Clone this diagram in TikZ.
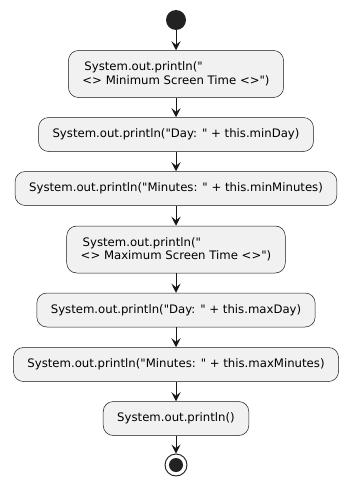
\documentclass[tikz,border=0pt]{standalone}
\usepackage{fontspec}
\setmainfont{DejaVu Sans}[Ligatures=TeXOff]
\usetikzlibrary{arrows.meta}
\definecolor{actfill}{HTML}{F1F1F1}
\definecolor{actline}{HTML}{181818}
\definecolor{dotfill}{HTML}{222222}
\begin{document}
\begin{tikzpicture}[x=1pt, y=-1pt,
  act/.style={draw=actline, fill=actfill, rounded corners=10pt, line width=0.5pt,
    font=\fontsize{11.7}{13.5}\selectfont, align=left, inner xsep=14pt, minimum height=34pt},
  flow/.style={draw=actline, line width=0.9pt, -{Stealth[length=9pt, width=9pt, inset=3.5pt]}}]
\useasboundingbox (0,0) rectangle (352,487);
\node[circle, fill=dotfill, minimum size=20pt, inner sep=0pt] (start) at (176,20){};
\node[act, minimum height=47pt] (minhead) at (176,74){\,System.out.println("\\<> Minimum Screen Time <>")};
\node[act] (minday) at (176,134.5){System.out.println("Day: " + this.minDay)};
\node[act] (minmin) at (176,188.5){System.out.println("Minutes: " + this.minMinutes)};
\node[act, minimum height=47pt] (maxhead) at (176,249.5){\,System.out.println("\\<> Maximum Screen Time <>")};
\node[act] (maxday) at (176,310){System.out.println("Day: " + this.maxDay)};
\node[act] (maxmin) at (176,364.5){System.out.println("Minutes: " + this.maxMinutes)};
\node[act] (blank) at (176,418.5){System.out.println()};
\node[circle, draw=actline, line width=0.9pt, minimum size=22pt, inner sep=0pt] (stop) at (176,465){};
\node[circle, fill=dotfill, minimum size=14pt, inner sep=0pt] (stopdot) at (stop){};
\draw[flow](start) -- (minhead);
\draw[flow](minhead) -- (minday);
\draw[flow](minday) -- (minmin);
\draw[flow](minmin) -- (maxhead);
\draw[flow](maxhead) -- (maxday);
\draw[flow](maxday) -- (maxmin);
\draw[flow](maxmin) -- (blank);
\draw[flow](blank) -- (stop);
\end{tikzpicture}
\end{document}
